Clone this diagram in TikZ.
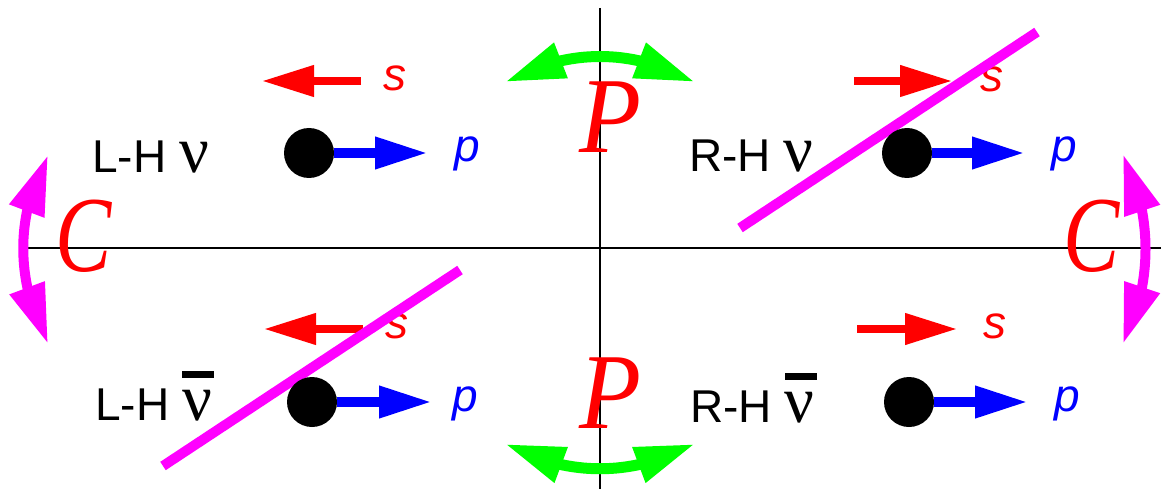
\documentclass[tikz,border=0pt]{standalone}
\usepackage{fontspec}
\setmainfont{Liberation Serif}
\setsansfont{Liberation Sans}
\usetikzlibrary{arrows.meta,bending}
\definecolor{magn}{RGB}{255,0,255}
\definecolor{grn}{RGB}{0,255,0}
\newcommand{\myhel}[1]{{\sffamily\fontsize{46}{50}\selectfont #1\ }}
\newcommand{\mynu}{{\fontsize{66}{70}\selectfont ν}}
\newcommand{\mynubar}{{\fontsize{66}{70}\selectfont\makebox[0pt][l]{\rule[42pt]{32pt}{7pt}}ν}}
\begin{document}
\begin{tikzpicture}[x=1pt,y=-1pt,
  axis/.style={line width=2pt,black},
  dotnode/.style={circle,fill=black,inner sep=0pt,minimum size=50pt},
  momarrow/.style={blue,line width=10pt,-{Triangle[length=53pt,width=30pt]}},
  spinarrow/.style={red,line width=7.5pt,-{Triangle[length=52pt,width=30pt]}},
  vetoline/.style={magn,line width=10pt},
  parrow/.style={grn,line width=11pt,{Triangle[length=60pt,width=35pt]}-{Triangle[length=60pt,width=35pt]}},
  carrow/.style={magn,line width=10pt,{Triangle[length=60pt,width=35pt]}-{Triangle[length=60pt,width=35pt]}},
  hlabel/.style={anchor=base west,inner sep=0pt,text=black},
  plabel/.style={anchor=base,inner sep=0pt,text=blue,font=\sffamily\itshape\fontsize{46}{50}\selectfont},
  slabel/.style={anchor=base,inner sep=0pt,text=red,font=\sffamily\itshape\fontsize{46}{50}\selectfont},
  bigletter/.style={anchor=base,inner sep=0pt,text=red,font=\itshape\fontsize{108}{114}\selectfont}
]
\useasboundingbox (0,0) rectangle (1161,489);
% axes
\coordinate (xl) at (28,248);
\coordinate (xr) at (1161,248);
\coordinate (yt) at (599.5,8);
\coordinate (yb) at (599.5,489);
\draw[axis] (xl) -- (xr);
\draw[axis] (yt) -- (yb);

% spin arrows
\coordinate (s1a) at (361,81);  \coordinate (s1b) at (262,81);
\coordinate (s2a) at (854,81);  \coordinate (s2b) at (952,81);
\coordinate (s3a) at (363,329); \coordinate (s3b) at (264,329);
\coordinate (s4a) at (857,329); \coordinate (s4b) at (957,329);
\draw[spinarrow] (s1a) -- (s1b);
\draw[spinarrow] (s2a) -- (s2b);
\draw[spinarrow] (s3a) -- (s3b);
\draw[spinarrow] (s4a) -- (s4b);
\node[slabel] (sl1) at (395,91) {s};
\node[slabel] (sl2) at (992,92) {s};
\node[slabel] (sl3) at (397,338) {s};
\node[slabel] (sl4) at (995,338) {s};

% forbidden states
\coordinate (v1a) at (740,228); \coordinate (v1b) at (1037,32);
\coordinate (v2a) at (163,466); \coordinate (v2b) at (460,270);
\draw[vetoline] (v1a) -- (v1b);
\draw[vetoline] (v2a) -- (v2b);

% particles
\node[dotnode] (d1) at (309,153) {};
\node[dotnode] (d2) at (907,153) {};
\node[dotnode] (d3) at (312,402) {};
\node[dotnode] (d4) at (909,402) {};
\coordinate (m1) at (428,153);
\coordinate (m2) at (1025,153);
\coordinate (m3) at (432,402);
\coordinate (m4) at (1028,402);
\draw[momarrow] (d1.east) -- (m1);
\draw[momarrow] (d2.east) -- (m2);
\draw[momarrow] (d3.east) -- (m3);
\draw[momarrow] (d4.east) -- (m4);
\node[plabel] (pl1) at (467,162) {p};
\node[plabel] (pl2) at (1064,162) {p};
\node[plabel] (pl3) at (465,411) {p};
\node[plabel] (pl4) at (1067,411) {p};

% labels
\node[hlabel] (h1) at (92,173) {\myhel{L-H}\mynu};
\node[hlabel] (h2) at (689,172) {\myhel{R-H}\mynu};
\node[hlabel] (h3) at (95,420) {\myhel{L-H}\mynubar};
\node[hlabel] (h4) at (690,422) {\myhel{R-H}\mynubar};

% parity
\coordinate (pa1) at (505,82); \coordinate (pb1) at (695,82);
\coordinate (pa2) at (505,444); \coordinate (pb2) at (695,444);
\draw[parrow] (pa1) .. controls (568,48) and (632,48) .. (pb1);
\draw[parrow] (pa2) .. controls (568,477) and (632,477) .. (pb2);
\node[bigletter] (P1) at (610,153) {\scalebox{0.94}[1]{P}};
\node[bigletter] (P2) at (610,428) {\scalebox{0.94}[1]{P}};

% charge conjugation
\coordinate (ca1) at (48,155); \coordinate (cb1) at (48,344);
\coordinate (ca2) at (1123,154); \coordinate (cb2) at (1123,344);
\draw[carrow] (ca1) .. controls (15,215) and (15,281) .. (cb1);
\draw[carrow] (ca2) .. controls (1153,214) and (1153,284) .. (cb2);
\node[bigletter] (C1) at (84,271) {\scalebox{0.78}[1]{C}};
\node[bigletter] (C2) at (1092,271) {\scalebox{0.78}[1]{C}};
\end{tikzpicture}
\end{document}
